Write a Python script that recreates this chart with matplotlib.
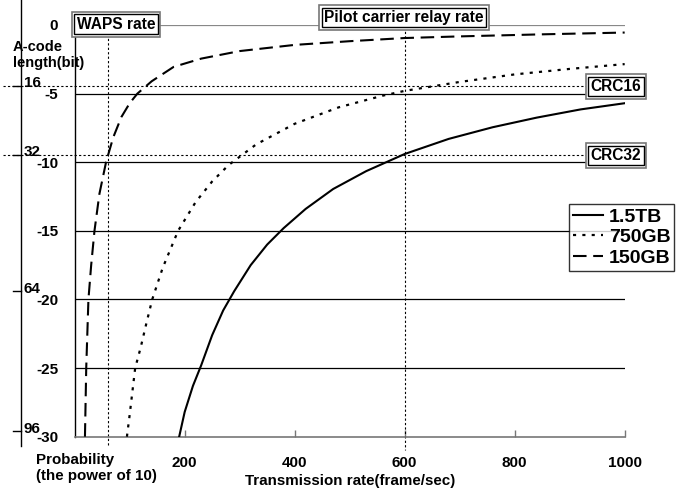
import numpy as np
import matplotlib
matplotlib.use("Agg")
import matplotlib.pyplot as plt

plt.rcParams['font.family'] = ['Liberation Sans', 'DejaVu Sans']
plt.rcParams['font.weight'] = 'bold'
plt.rcParams['axes.unicode_minus'] = False

# readings from the reference (x = frame/sec, y = log10 probability)
tb15_x = [190, 200, 215, 230, 250, 270, 290, 320, 350, 380, 420, 470, 530, 600, 680, 760, 840, 920, 1000]
tb15_y = [-30.0, -28.2, -26.3, -24.8, -22.6, -20.8, -19.4, -17.5, -16.0, -14.8, -13.4, -11.95, -10.65, -9.4, -8.3, -7.45, -6.75, -6.15, -5.7]

gb750_x = [95, 100, 110, 120, 130, 141, 160, 188, 220, 250, 280, 330, 400, 480, 560, 600, 700, 800, 900, 1000]
gb750_y = [-30.0, -28.4, -25.0, -23.5, -21.8, -20.0, -17.7, -15.0, -12.9, -11.4, -10.2, -8.7, -7.2, -6.0, -5.15, -4.8, -4.15, -3.6, -3.2, -2.85]

gb150_x = [18.7, 21, 25, 30, 36, 45, 57, 70, 85, 100, 114, 140, 180, 230, 300, 400, 500, 600, 700, 850, 1000]
gb150_y = [-30.0, -25.0, -20.0, -17.5, -15.0, -12.3, -10.0, -8.2, -6.7, -5.7, -5.0, -4.1, -3.05, -2.45, -1.9, -1.45, -1.18, -0.95, -0.83, -0.68, -0.55]

x_ticks = [200, 400, 600, 800, 1000]
y_ticks = [0, -5, -10, -15, -20, -25, -30]
bits = [16, 32, 64, 96]
bit_pos = [-4.45, -9.45, -19.4, -29.6]
waps_rate = 60
pilot_rate = 600

fig = plt.figure(figsize=(6.94, 4.98), dpi=100)
ax = fig.add_axes([0.1076, 0.1231, 0.7925, 0.8267])
ax.set_xlim(0, 1000)
ax.set_ylim(-30, 0)

# horizontal grid lines
for v in y_ticks[:-1]:
    ax.axhline(v, color='#888888' if v == 0 else 'black', lw=0.9, zorder=1)

ax.plot(tb15_x, tb15_y, color='black', lw=1.5, label='1.5TB', zorder=3)
ax.plot(gb750_x, gb750_y, color='black', lw=1.6, dashes=(1.4, 2.8), label='750GB', zorder=3)
ax.plot(gb150_x, gb150_y, color='black', lw=1.5, dashes=(6.5, 3.2), label='150GB', zorder=3)

# CRC dotted lines
for v in bit_pos[:2]:
    ax.plot([-0.13, 1.0], [v, v], transform=ax.get_yaxis_transform(), color='black',
            lw=0.8, ls=(0, (2, 2)), clip_on=False, zorder=2)
# rate dotted lines
ax.plot([waps_rate, waps_rate], [0, -30.7], color='black', lw=0.8, ls=(0, (2, 2)), clip_on=False, zorder=2)
ax.plot([pilot_rate, pilot_rate], [0.5, -31.0], color='black', lw=0.8, ls=(0, (2, 2)), clip_on=False, zorder=2)

for s in ['top', 'right']:
    ax.spines[s].set_visible(False)
ax.spines['left'].set_color('black')
ax.spines['left'].set_linewidth(1.0)
ax.spines['bottom'].set_color('#777777')
ax.spines['bottom'].set_linewidth(1.2)

ax.set_xticks(x_ticks)
ax.set_xticklabels([str(v) for v in x_ticks])
ax.set_yticks(y_ticks)
ax.set_yticklabels([str(v) for v in y_ticks])
ax.tick_params(axis='x', direction='in', length=5, width=1, color='#777777', pad=14, labelsize=11)
ax.tick_params(axis='y', length=0, pad=12, labelsize=11)
for t in ax.get_xticklabels() + ax.get_yticklabels():
    t.set_fontweight('bold')

ax.set_xlabel('Transmission rate(frame/sec)', fontsize=10.9, fontweight='bold', labelpad=3)

# secondary bit-length scale
yt = ax.get_yaxis_transform()
ax.plot([-0.098, -0.098], [3.6, -30.65], transform=yt, color='black', lw=1.0, clip_on=False)
for b, p in zip(bits, bit_pos):
    ax.plot([-0.112, -0.098], [p, p], transform=yt, color='black', lw=1.0, clip_on=False)
    ax.text(-0.093, p - 0.1, str(b), transform=yt, fontsize=11, fontweight='bold',
            ha='left', va='baseline', clip_on=False)

fig.text(13 / 694, 1 - 40 / 498, 'A-code\nlength(bit)', fontsize=10.5, fontweight='bold',
         ha='left', va='top', linespacing=1.2)
fig.text(36 / 694, 1 - 453 / 498, 'Probability\n(the power of 10)', fontsize=10.9, fontweight='bold',
         ha='left', va='top', linespacing=1.2)


def boxed(x, y, s, fs=11.2):
    ax.text(x, y, s, fontsize=fs, fontweight='bold', ha='center', va='center', zorder=5,
            color='white', clip_on=False,
            bbox=dict(boxstyle='square,pad=0.32', fc='white', ec='#777777', lw=1.2))
    ax.text(x, y, s, fontsize=fs, fontweight='bold', ha='center', va='center', zorder=6,
            clip_on=False,
            bbox=dict(boxstyle='square,pad=0.15', fc='white', ec='black', lw=1.0))


boxed(75, 0.07, 'WAPS rate')
boxed(599, 0.55, 'Pilot carrier relay rate')
boxed(984, -4.47, 'CRC16')
boxed(984, -9.5, 'CRC32')

leg = ax.legend(loc='upper left', bbox_to_anchor=(0.899, 0.565), fontsize=14, frameon=True,
                fancybox=False, handlelength=1.55, handletextpad=0.3, borderpad=0.2,
                labelspacing=0.15, borderaxespad=0)
leg.get_frame().set_edgecolor('black')
leg.get_frame().set_linewidth(1.0)
for t in leg.get_texts():
    t.set_fontweight('bold')

fig.savefig('out.png', dpi=100)
